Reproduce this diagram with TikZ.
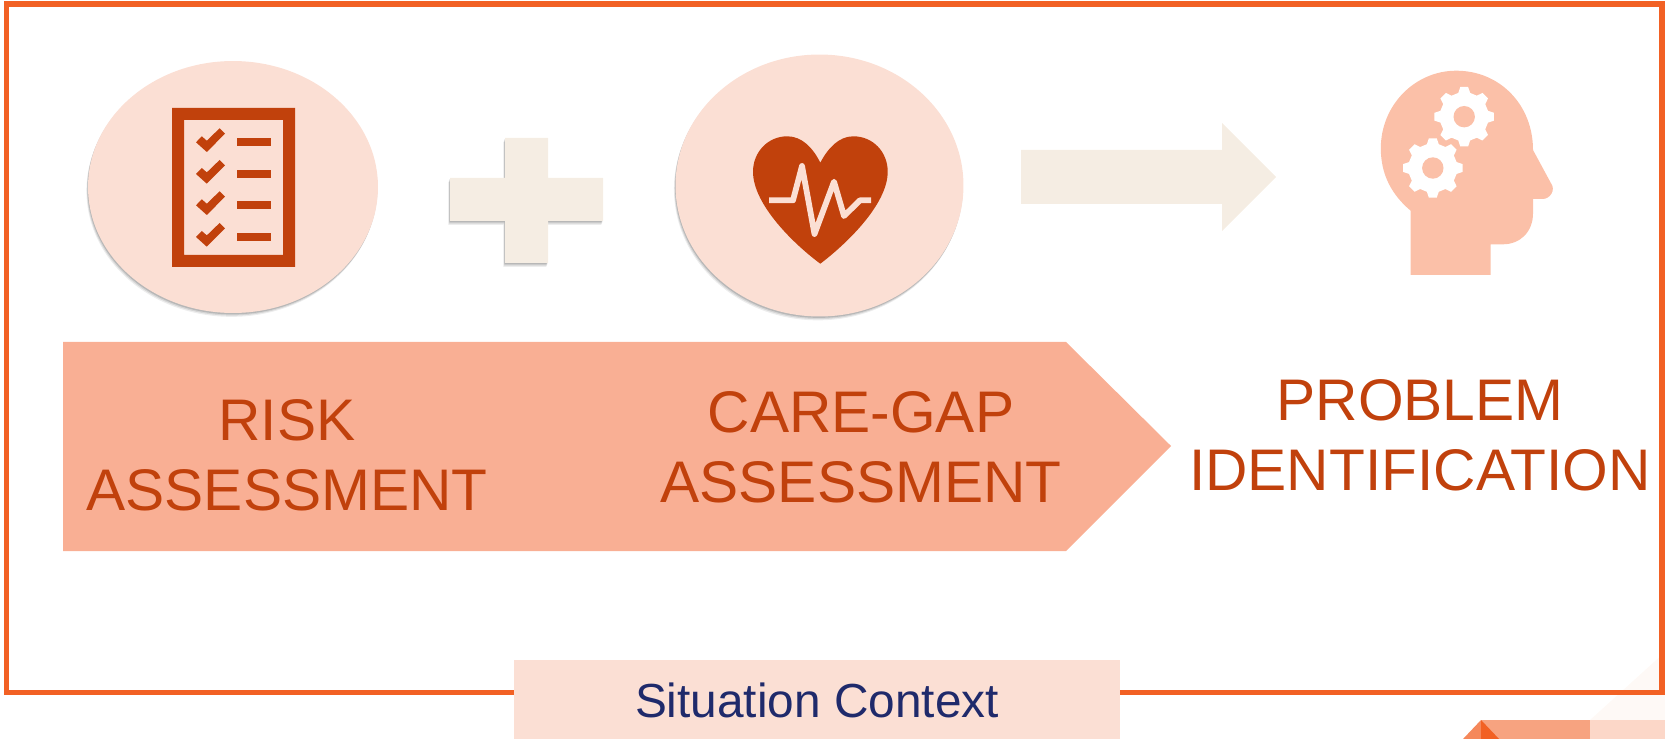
\documentclass[tikz,border=0pt]{standalone}
\usepackage{fontspec}
\setmainfont{Liberation Sans}
\usetikzlibrary{shapes.geometric,shapes.symbols,shadows}
\definecolor{frameorange}{HTML}{F26124}
\definecolor{darkorange}{HTML}{C1410C}
\definecolor{paleorange}{HTML}{FBDFD4}
\definecolor{midorange}{HTML}{F9AF94}
\definecolor{headorange}{HTML}{FBC0A8}
\definecolor{cream}{HTML}{F5EDE3}
\definecolor{navy}{HTML}{1F2A6B}
\begin{document}
\begin{tikzpicture}[
	x=0.02cm, y=-0.02cm,
	softshadow/.style={
		drop shadow={shadow xshift=-0.9pt, shadow yshift=-2.2pt, fill=black, opacity=0.07},
		drop shadow={shadow xshift=-0.6pt, shadow yshift=-1.5pt, fill=black, opacity=0.10},
		drop shadow={shadow xshift=-0.3pt, shadow yshift=-0.8pt, fill=black, opacity=0.14}},
	disc/.style={ellipse, fill=paleorange, inner sep=0pt, softshadow},
	heading/.style={align=center, text=darkorange, font=\fontsize{33.4}{39.8}\selectfont},
	tick/.style={fill=darkorange},
	ecgline/.style={draw=paleorange, line width=3.3pt, line join=round},
	gearfill/.style={fill=white}
	]
	
	\useasboundingbox (0,0) rectangle (1665,739);
	
	%-----------------------
	% Corner decoration (bottom right)
	%-----------------------
	\fill[fill=frameorange!4] (1590,720) -- (1665,652) -- (1665,720) -- cycle;
	\fill[fill=frameorange!58] (1481,720) rectangle (1590,739);
	\fill[fill=frameorange!25] (1590,720) rectangle (1665,739);
	\fill[fill=frameorange!75] (1463,739) -- (1481,720) -- (1481,739) -- cycle;
	\fill[fill=frameorange] (1481,720) -- (1499,739) -- (1481,739) -- cycle;
	
	%-----------------------
	% Outer frame and caption
	%-----------------------
	\draw[draw=frameorange, line width=3.1pt] (6.5,4) rectangle (1662,692.5);
	\node[fill=paleorange, minimum width=12.12cm, minimum height=1.6cm, inner sep=0pt, text=navy,
		font=\fontsize{27.2}{32}\selectfont] (context) at (817,700) {Situation Context};
	
	%-----------------------
	% Discs and banner
	%-----------------------
	\node[disc, minimum width=5.8cm, minimum height=5.04cm] (riskdisc) at (233,187) {};
	\node[disc, minimum width=5.76cm, minimum height=5.24cm] (caredisc) at (819.5,185.5) {};
	
	\fill[fill=midorange] (63,342) -- (1066,342) -- (1171,446) -- (1066,551) -- (63,551) -- cycle;
	
	\node[heading] (risk) at (287,455) {RISK\\ASSESSMENT};
	\node[heading] (care) at (861,447.5) {CARE-GAP\\ASSESSMENT};
	\node[heading] (problem) at (1420,435) {PROBLEM\\IDENTIFICATION};
	
	%-----------------------
	% Plus sign and arrow
	%-----------------------
	\fill[fill=cream, softshadow] (505,138) -- (548,138) -- (548,178) -- (603,178) -- (603,221) -- (548,221)
		-- (548,263) -- (505,263) -- (505,221) -- (450,221) -- (450,178) -- (505,178) -- cycle;
	\fill[fill=cream] (1021,150) -- (1222,150) -- (1222,123) -- (1276,177) -- (1222,231) -- (1222,204) -- (1021,204) -- cycle;
	
	%-----------------------
	% Checklist icon
	%-----------------------
	\fill[tick, even odd rule] (172,108) rectangle (295,267) (184,120) rectangle (283,255);
	\foreach \rowy in {142,173.7,205,236.7} {
		\fill[tick] (237,\rowy-4) rectangle (271,\rowy+4);
		\fill[tick, shift={(0,\rowy)}] (196,0.3) -- (201.8,-5.7) -- (206.8,-1.3) -- (219.6,-13.7) -- (225,-8.3) -- (206.8,10) -- cycle;
	}
	
	%-----------------------
	% Heart icon
	%-----------------------
	\fill[fill=darkorange] (820.3,263.7) .. controls (795,245) and (753,205) .. (753,171.7)
		.. controls (753,152) and (768,136.3) .. (787.3,136.3)
		.. controls (802,136.3) and (813,148) .. (820.3,162.7)
		.. controls (828,148) and (839,136.3) .. (853.3,136.3)
		.. controls (873,136.3) and (887.7,152) .. (887.7,171.7)
		.. controls (887.7,205) and (845,245) .. (820.3,263.7) -- cycle;
	\draw[ecgline] (769,200.3) -- (793,200.3) -- (802,166) -- (814.5,234) -- (834,181.7) -- (844,216) -- (860,200.3) -- (871,200.3);
	
	%-----------------------
	% Head icon with two gears
	%-----------------------
	\fill[fill=headorange] (1410.6,275) -- (1410.6,210.7)
		.. controls (1392,195) and (1380.8,175) .. (1380.8,148.3)
		.. controls (1380.8,105) and (1415,70.7) .. (1456.2,70.7)
		.. controls (1500,70.7) and (1533,105) .. (1533,150)
		-- (1551,183.3) .. controls (1556,190) and (1550,199) .. (1542.7,199)
		-- (1533,199) -- (1533,213.3)
		.. controls (1533,232) and (1520,244.3) .. (1503,244.3)
		-- (1490.6,244.3) -- (1490.6,275) -- cycle;
	\foreach \gx/\gy in {1464.2/116.7, 1432.8/168} {
		\fill[gearfill, shift={(\gx,\gy)}] (-14:24.5)
			\foreach \a in {0,45,...,315} { -- (\a-14:24.5) -- (\a-7.5:30) -- (\a+7.5:30) -- (\a+14:24.5) } -- cycle;
		\fill[fill=headorange] (\gx,\gy) circle (10.7);
	}
	
\end{tikzpicture}
\end{document}
